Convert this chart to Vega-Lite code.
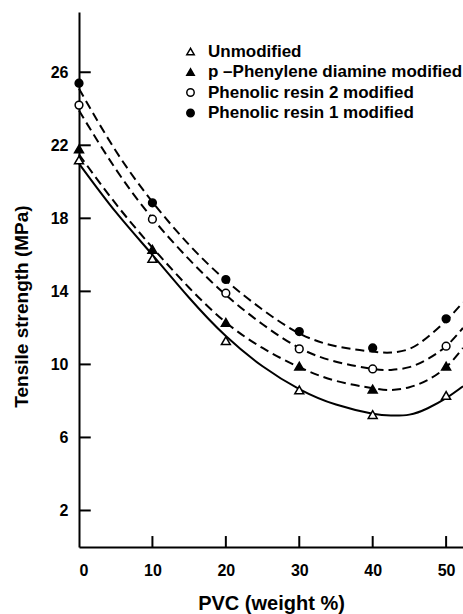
{
  "$schema": "https://vega.github.io/schema/vega-lite/v6.json",
  "width": 384,
  "height": 535,
  "autosize": "none",
  "padding": {"left": 79, "top": 12, "right": 0, "bottom": 67},
  "background": "white",
  "config": {
    "view": {"stroke": null},
    "font": "Liberation Sans",
    "axis": {
      "grid": false,
      "ticks": false,
      "domainColor": "black",
      "domainWidth": 2,
      "labelColor": "black",
      "labelFont": "Liberation Sans",
      "labelFontWeight": "bold",
      "labelFontSize": 16,
      "titleFont": "Liberation Sans",
      "titleFontWeight": "bold",
      "titleColor": "black"
    }
  },
  "datasets": {
    "yticks": [{"v": 2}, {"v": 6}, {"v": 10}, {"v": 14}, {"v": 18}, {"v": 22}, {"v": 26}],
    "xticks": [{"v": 10}, {"v": 20}, {"v": 30}, {"v": 40}, {"v": 50}],
    "points": [
      {"series": "Unmodified", "pvc": 0, "ts": 21.2},
      {"series": "Unmodified", "pvc": 10, "ts": 15.8},
      {"series": "Unmodified", "pvc": 20, "ts": 11.3},
      {"series": "Unmodified", "pvc": 30, "ts": 8.6},
      {"series": "Unmodified", "pvc": 40, "ts": 7.25},
      {"series": "Unmodified", "pvc": 50, "ts": 8.3},
      {"series": "p –Phenylene diamine modified", "pvc": 0, "ts": 21.8},
      {"series": "p –Phenylene diamine modified", "pvc": 10, "ts": 16.3},
      {"series": "p –Phenylene diamine modified", "pvc": 20, "ts": 12.3},
      {"series": "p –Phenylene diamine modified", "pvc": 30, "ts": 9.9},
      {"series": "p –Phenylene diamine modified", "pvc": 40, "ts": 8.65},
      {"series": "p –Phenylene diamine modified", "pvc": 50, "ts": 9.9},
      {"series": "Phenolic resin 2 modified", "pvc": 0, "ts": 24.2},
      {"series": "Phenolic resin 2 modified", "pvc": 10, "ts": 17.95},
      {"series": "Phenolic resin 2 modified", "pvc": 20, "ts": 13.9},
      {"series": "Phenolic resin 2 modified", "pvc": 30, "ts": 10.85},
      {"series": "Phenolic resin 2 modified", "pvc": 40, "ts": 9.75},
      {"series": "Phenolic resin 2 modified", "pvc": 50, "ts": 11.0},
      {"series": "Phenolic resin 1 modified", "pvc": 0, "ts": 25.4},
      {"series": "Phenolic resin 1 modified", "pvc": 10, "ts": 18.85},
      {"series": "Phenolic resin 1 modified", "pvc": 20, "ts": 14.65},
      {"series": "Phenolic resin 1 modified", "pvc": 30, "ts": 11.8},
      {"series": "Phenolic resin 1 modified", "pvc": 40, "ts": 10.9},
      {"series": "Phenolic resin 1 modified", "pvc": 50, "ts": 12.5}
    ],
    "curves": [
      {"series": "Unmodified", "pvc": 0, "ts": 21.0},
      {"series": "Unmodified", "pvc": 5, "ts": 18.35},
      {"series": "Unmodified", "pvc": 10, "ts": 16.0},
      {"series": "Unmodified", "pvc": 15, "ts": 13.65},
      {"series": "Unmodified", "pvc": 20, "ts": 11.55},
      {"series": "Unmodified", "pvc": 25, "ts": 9.9},
      {"series": "Unmodified", "pvc": 30, "ts": 8.65},
      {"series": "Unmodified", "pvc": 35, "ts": 7.8},
      {"series": "Unmodified", "pvc": 40, "ts": 7.3},
      {"series": "Unmodified", "pvc": 42.5, "ts": 7.2},
      {"series": "Unmodified", "pvc": 45, "ts": 7.25},
      {"series": "Unmodified", "pvc": 47.5, "ts": 7.6},
      {"series": "Unmodified", "pvc": 50, "ts": 8.15},
      {"series": "Unmodified", "pvc": 52.3, "ts": 8.8},
      {"series": "p –Phenylene diamine modified", "pvc": 0, "ts": 21.5},
      {"series": "p –Phenylene diamine modified", "pvc": 5, "ts": 18.8},
      {"series": "p –Phenylene diamine modified", "pvc": 10, "ts": 16.4},
      {"series": "p –Phenylene diamine modified", "pvc": 15, "ts": 14.2},
      {"series": "p –Phenylene diamine modified", "pvc": 20, "ts": 12.3},
      {"series": "p –Phenylene diamine modified", "pvc": 25, "ts": 10.9},
      {"series": "p –Phenylene diamine modified", "pvc": 30, "ts": 9.85},
      {"series": "p –Phenylene diamine modified", "pvc": 35, "ts": 9.1},
      {"series": "p –Phenylene diamine modified", "pvc": 40, "ts": 8.7},
      {"series": "p –Phenylene diamine modified", "pvc": 42.5, "ts": 8.6},
      {"series": "p –Phenylene diamine modified", "pvc": 45, "ts": 8.75},
      {"series": "p –Phenylene diamine modified", "pvc": 47.5, "ts": 9.15},
      {"series": "p –Phenylene diamine modified", "pvc": 50, "ts": 9.85},
      {"series": "p –Phenylene diamine modified", "pvc": 52.3, "ts": 10.9},
      {"series": "Phenolic resin 2 modified", "pvc": 0, "ts": 23.9},
      {"series": "Phenolic resin 2 modified", "pvc": 5, "ts": 20.7},
      {"series": "Phenolic resin 2 modified", "pvc": 10, "ts": 18.0},
      {"series": "Phenolic resin 2 modified", "pvc": 15, "ts": 15.75},
      {"series": "Phenolic resin 2 modified", "pvc": 20, "ts": 13.8},
      {"series": "Phenolic resin 2 modified", "pvc": 25, "ts": 12.2},
      {"series": "Phenolic resin 2 modified", "pvc": 30, "ts": 10.9},
      {"series": "Phenolic resin 2 modified", "pvc": 35, "ts": 10.15},
      {"series": "Phenolic resin 2 modified", "pvc": 40, "ts": 9.75},
      {"series": "Phenolic resin 2 modified", "pvc": 42.5, "ts": 9.7},
      {"series": "Phenolic resin 2 modified", "pvc": 45, "ts": 9.85},
      {"series": "Phenolic resin 2 modified", "pvc": 47.5, "ts": 10.3},
      {"series": "Phenolic resin 2 modified", "pvc": 50, "ts": 11.0},
      {"series": "Phenolic resin 2 modified", "pvc": 52.3, "ts": 12.0},
      {"series": "Phenolic resin 1 modified", "pvc": 0, "ts": 25.1},
      {"series": "Phenolic resin 1 modified", "pvc": 5, "ts": 21.7},
      {"series": "Phenolic resin 1 modified", "pvc": 10, "ts": 18.9},
      {"series": "Phenolic resin 1 modified", "pvc": 15, "ts": 16.55},
      {"series": "Phenolic resin 1 modified", "pvc": 20, "ts": 14.6},
      {"series": "Phenolic resin 1 modified", "pvc": 25, "ts": 13.0},
      {"series": "Phenolic resin 1 modified", "pvc": 30, "ts": 11.7},
      {"series": "Phenolic resin 1 modified", "pvc": 35, "ts": 11.0},
      {"series": "Phenolic resin 1 modified", "pvc": 40, "ts": 10.7},
      {"series": "Phenolic resin 1 modified", "pvc": 42.5, "ts": 10.65},
      {"series": "Phenolic resin 1 modified", "pvc": 45, "ts": 10.85},
      {"series": "Phenolic resin 1 modified", "pvc": 47.5, "ts": 11.5},
      {"series": "Phenolic resin 1 modified", "pvc": 50, "ts": 12.4},
      {"series": "Phenolic resin 1 modified", "pvc": 52.3, "ts": 13.4}
    ]
  },
  "layer": [
    {
      "data": {"name": "yticks"},
      "mark": {"type": "rule", "color": "black", "strokeWidth": 2},
      "encoding": {
        "y": {
          "field": "v", "type": "quantitative",
          "scale": {"domain": [0, 29.3], "nice": false, "zero": false},
          "axis": {"values": [2, 6, 10, 14, 18, 22, 26], "labelPadding": 11, "title": "Tensile strength (MPa)", "titleFontSize": 19, "titleBaseline": "middle", "titleAngle": -90, "titleX": -58, "titleY": 294}
        },
        "x": {
          "datum": 0, "type": "quantitative",
          "scale": {"domain": [0, 52.3], "nice": false, "zero": false},
          "axis": {"values": [0, 10, 20, 30, 40, 50], "labelPadding": 15, "title": "PVC (weight %)", "titleFontSize": 20, "titleBaseline": "middle", "titleY": 56, "titleX": 192}
        },
        "x2": {"datum": 1.6}
      }
    },
    {
      "data": {"name": "xticks"},
      "mark": {"type": "rule", "color": "black", "strokeWidth": 2},
      "encoding": {
        "x": {"field": "v", "type": "quantitative"},
        "y": {"datum": 0, "type": "quantitative"},
        "y2": {"datum": 0.6}
      }
    },
    {
      "data": {"name": "curves"},
      "transform": [{"filter": "datum.series == 'Unmodified'"}],
      "mark": {"type": "line", "interpolate": "natural", "strokeWidth": 2, "color": "black"},
      "encoding": {
        "x": {"field": "pvc", "type": "quantitative"},
        "y": {"field": "ts", "type": "quantitative"}
      }
    },
    {
      "data": {"name": "curves"},
      "transform": [{"filter": "datum.series != 'Unmodified'"}],
      "mark": {"type": "line", "interpolate": "natural", "strokeWidth": 2, "color": "black", "strokeDash": [9, 5]},
      "encoding": {
        "x": {"field": "pvc", "type": "quantitative"},
        "y": {"field": "ts", "type": "quantitative"},
        "detail": {"field": "series", "type": "nominal"}
      }
    },
    {
      "data": {"name": "points"},
      "transform": [{"filter": "datum.series == 'Unmodified' || datum.series == 'p –Phenylene diamine modified'"}],
      "mark": {"type": "point", "filled": true, "strokeWidth": 1.5, "opacity": 1, "size": 80},
      "encoding": {
        "x": {"field": "pvc", "type": "quantitative"},
        "y": {"field": "ts", "type": "quantitative"},
        "shape": {
          "field": "series", "type": "nominal",
          "scale": {"domain": ["Unmodified", "p –Phenylene diamine modified", "Phenolic resin 2 modified", "Phenolic resin 1 modified"], "range": ["triangle-up", "triangle-up", "circle", "circle"]},
          "legend": {"orient": "none", "legendX": 103, "legendY": 31, "title": null, "labelFont": "Liberation Sans", "labelFontWeight": "bold", "labelFontSize": 17, "labelColor": "black", "labelLimit": 400, "labelOffset": 9, "rowPadding": 2.5, "symbolSize": 55, "symbolStrokeWidth": 1.5, "padding": 0}
        },
        "fill": {
          "field": "series", "type": "nominal",
          "scale": {"domain": ["Unmodified", "p –Phenylene diamine modified", "Phenolic resin 2 modified", "Phenolic resin 1 modified"], "range": ["white", "black", "white", "black"]},
          "legend": {"orient": "none", "legendX": 103, "legendY": 31, "title": null, "labelFont": "Liberation Sans", "labelFontWeight": "bold", "labelFontSize": 17, "labelColor": "black", "labelLimit": 400, "labelOffset": 9, "rowPadding": 2.5, "symbolSize": 55, "symbolStrokeWidth": 1.5, "padding": 0}
        },
        "stroke": {
          "field": "series", "type": "nominal",
          "scale": {"domain": ["Unmodified", "p –Phenylene diamine modified", "Phenolic resin 2 modified", "Phenolic resin 1 modified"], "range": ["black", "black", "black", "black"]},
          "legend": {"orient": "none", "legendX": 103, "legendY": 31, "title": null, "labelFont": "Liberation Sans", "labelFontWeight": "bold", "labelFontSize": 17, "labelColor": "black", "labelLimit": 400, "labelOffset": 9, "rowPadding": 2.5, "symbolSize": 55, "symbolStrokeWidth": 1.5, "padding": 0}
        }
      }
    },
    {
      "data": {"name": "points"},
      "transform": [{"filter": "datum.series == 'Phenolic resin 2 modified' || datum.series == 'Phenolic resin 1 modified'"}],
      "mark": {"type": "point", "filled": true, "strokeWidth": 1.5, "opacity": 1, "size": 60},
      "encoding": {
        "x": {"field": "pvc", "type": "quantitative"},
        "y": {"field": "ts", "type": "quantitative"},
        "shape": {"field": "series", "type": "nominal"},
        "fill": {"field": "series", "type": "nominal"},
        "stroke": {"field": "series", "type": "nominal"}
      }
    }
  ]
}
